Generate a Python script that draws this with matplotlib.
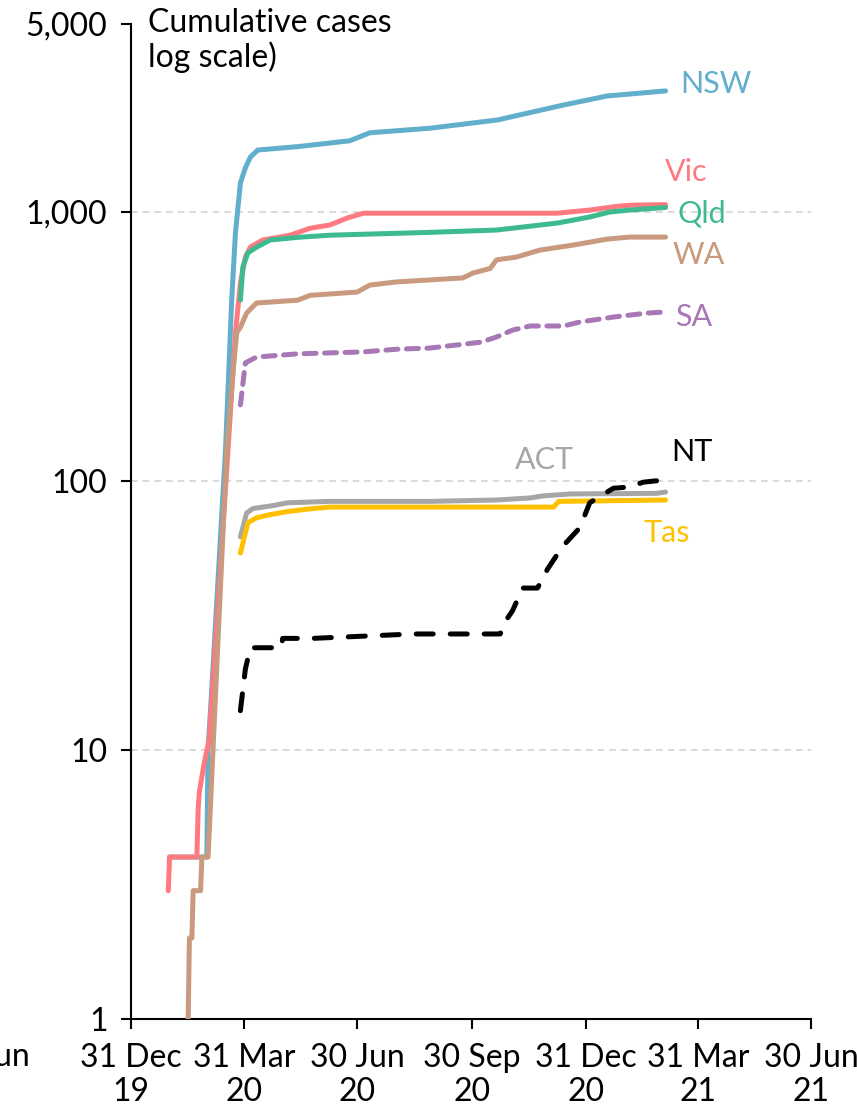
import numpy as np
import matplotlib
matplotlib.use('Agg')
import matplotlib.pyplot as plt

plt.rcParams['font.family'] = ['Lato', 'DejaVu Sans']

base = np.datetime64('2019-12-31')

# days since 31 Dec 2019 and cumulative cases
nsw_days = [31, 61, 62, 65, 76, 81, 84, 88, 92, 96, 102, 134, 176, 192, 241, 295, 348, 383, 430]
nsw_cases = [4, 4, 10, 17, 130, 471, 835, 1282, 1460, 1600, 1700, 1750, 1840, 1970, 2050, 2200, 2500, 2700, 2820]

vic_days = [30, 31, 53, 54, 55, 59, 63, 78, 84, 88, 92, 96, 106, 128, 144, 160, 174, 187, 343, 369, 391, 401, 430]
vic_cases = [3, 4, 4, 6, 7, 9, 11, 130, 355, 545, 680, 740, 787, 820, 870, 895, 950, 990, 990, 1017, 1050, 1060, 1065]

qld_days = [88, 90, 94, 101, 112, 134, 160, 240, 294, 343, 369, 385, 401, 430]
qld_cases = [471, 625, 705, 740, 787, 805, 820, 840, 857, 910, 958, 1000, 1017, 1040]

wa_days = [46, 47, 49, 50, 56, 57, 62, 77, 82, 85, 88, 93, 101, 134, 144, 182, 192, 214, 240,
           267, 275, 289, 294, 310, 329, 356, 383, 401, 430]
wa_cases = [1, 2, 2, 3, 3, 4, 4, 130, 252, 355, 373, 421, 459, 470, 490, 504, 535, 550, 559,
            569, 593, 617, 664, 680, 722, 754, 793, 807, 807]

sa_days = [88, 92, 101, 134, 187, 214, 240, 281, 294, 307, 321, 348, 361, 388, 415, 430]
sa_cases = [192, 275, 289, 297, 302, 309, 312, 328, 343, 364, 377, 377, 390, 407, 421, 425]

act_days = [88, 93, 98, 114, 126, 160, 240, 294, 321, 331, 353, 423, 430]
act_cases = [62, 76, 79, 81, 83, 84, 84, 85, 86.5, 88, 89.5, 90, 91]

tas_days = [88, 94, 101, 112, 126, 146, 160, 340, 344, 430]
tas_cases = [54, 70, 73, 75, 77, 79, 80, 80, 84, 85]

nt_days = [88, 92, 96, 121, 122, 146, 227, 297, 301, 307, 315, 327, 335, 347, 361, 369, 388, 401, 412, 430]
nt_cases = [14, 20, 24, 24, 26, 26, 27, 27, 30, 33, 40, 40, 47, 57, 67, 83, 94, 95, 99, 101]

tick_dates = ['2019-12-31', '2020-03-31', '2020-06-30', '2020-09-30', '2020-12-31', '2021-03-31', '2021-06-30']
tick_labels = ['31 Dec\n19', '31 Mar\n20', '30 Jun\n20', '30 Sep\n20', '31 Dec\n20', '31 Mar\n21', '30 Jun\n21']
y_ticks = [1, 10, 100, 1000, 5000]
y_labels = ['1', '10', '100', '1,000', '5,000']
grid_levels = [10, 100, 1000]


def dates(days):
    return base + np.array(days, dtype='timedelta64[D]')


fig = plt.figure(figsize=(8.57, 11.15), dpi=100)
ax = fig.add_axes([131 / 857, 96 / 1115, 680 / 857, 995 / 1115])

for g in grid_levels:
    ax.axhline(g, color='#d3d3d3', lw=1.2, ls=(0, (4, 3)), zorder=1)

lw = 3.6
kw = dict(lw=lw, solid_capstyle='round', dash_capstyle='round', zorder=3)
ax.plot(dates(nsw_days), nsw_cases, color='#62aecd', **kw)
ax.plot(dates(vic_days), vic_cases, color='#ff7a80', **kw)
ax.plot(dates(wa_days), wa_cases, color='#c99a7e', **kw)
ax.plot(dates(qld_days), qld_cases, color='#3dba8f', **kw)
ax.plot(dates(sa_days), sa_cases, color='#a777b6', ls=(0, (2.4, 1.7)), **kw)
ax.plot(dates(act_days), act_cases, color='#a6a6a6', **kw)
ax.plot(dates(tas_days), tas_cases, color='#ffc000', **kw)
ax.plot(dates(nt_days), nt_cases, color='black', ls=(0, (3.4, 3.4)), **kw)

ax.set_yscale('log')
ax.set_ylim(1, 5000)
ax.set_xlim(np.datetime64(tick_dates[0]), np.datetime64(tick_dates[-1]))
ax.set_yticks(y_ticks)
ax.set_yticklabels(y_labels)
ax.yaxis.set_minor_locator(matplotlib.ticker.NullLocator())
ax.set_xticks([np.datetime64(d) for d in tick_dates])
ax.set_xticklabels(tick_labels)

for s in ['top', 'right']:
    ax.spines[s].set_visible(False)
for s in ['left', 'bottom']:
    ax.spines[s].set_linewidth(1.5)
ax.tick_params(axis='both', labelsize=23, width=1.5, length=7, pad=10)

# state labels
label_style = dict(transform=ax.transAxes, fontsize=22, va='center', ha='left', zorder=5)
ax.text(0.807, 0.940, 'NSW', color='#62aecd', **label_style)
ax.text(0.785, 0.851, 'Vic', color='#ff7a80', **label_style)
ax.text(0.804, 0.810, 'Qld', color='#3dba8f', **label_style)
ax.text(0.796, 0.768, 'WA', color='#c99a7e', **label_style)
ax.text(0.800, 0.706, 'SA', color='#a777b6', **label_style)
ax.text(0.565, 0.562, 'ACT', color='#a6a6a6', **label_style)
ax.text(0.794, 0.570, 'NT', color='black',
        bbox=dict(facecolor='white', edgecolor='none', pad=1), **label_style)
ax.text(0.753, 0.488, 'Tas', color='#ffc000', **label_style)

ax.text(0.025, 1.016, 'Cumulative cases\nlog scale)', transform=ax.transAxes,
        fontsize=23, va='top', ha='left', linespacing=1.12)

# leftover label of the 30 Jun 19 tick, cut by the figure edge as in the source
fig.text(30 / 857, 1 - 1042 / 1115, '30 Jun\n19', fontsize=23, ha='right', va='top',
         multialignment='center')

fig.savefig('out.png', dpi=100)
